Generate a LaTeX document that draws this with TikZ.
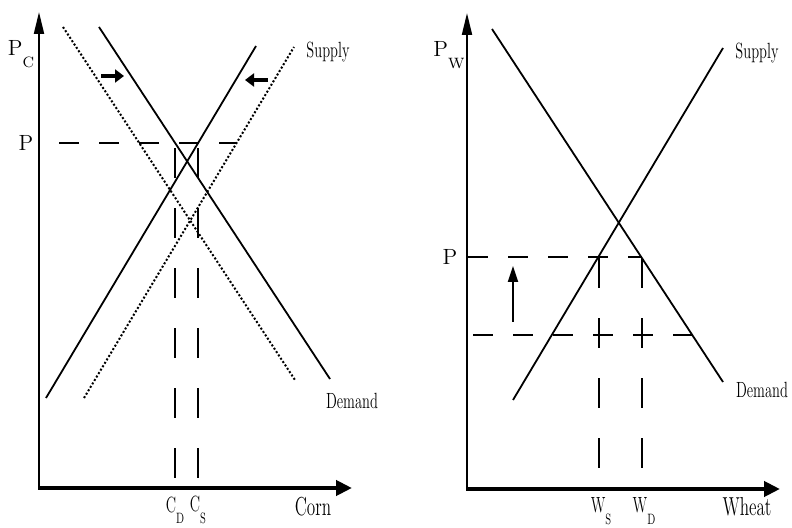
\documentclass[tikz,border=0pt]{standalone}
\usepackage{graphicx}
\usetikzlibrary{arrows.meta,calc}
\newcommand{\slim}[1]{\scalebox{.66}[1]{#1}}
\newcommand{\sub}[1]{\raisebox{-1.2ex}{\fontsize{7.5}{8}\selectfont #1}}

\begin{document}
\begin{tikzpicture}[x=.5pt,y=-.5pt,line join=round,
 curve/.style={line width=.9pt},
 shifted/.style={line width=1pt,dash pattern=on 1pt off 1pt},
 hguide/.style={line width=1pt,dash pattern=on 10pt off 10pt},
 vguide/.style={line width=1pt,dash pattern=on 15pt off 15pt},
 yaxis/.style={line width=1pt,-{Triangle[length=11pt,width=5pt]}},
 xaxis/.style={line width=2pt,-{Triangle[length=8pt,width=7.5pt]}},
 push/.style={line width=2pt,-{Triangle[length=4.5pt,width=6.5pt]}},
 rise/.style={line width=1pt,-{Triangle[length=8pt,width=5pt]}},
 lbl/.style={font=\fontsize{11}{13}\selectfont,inner sep=0pt},
 axlbl/.style={font=\fontsize{13}{15}\selectfont,inner sep=0pt}]
\useasboundingbox (0,0) rectangle (792,528);
% Kukurydza: lewy wykres, linie kropkowane = krzywe przed przesunieciem
\coordinate (co) at (39,488);
\coordinate (cy) at (39,12);
\coordinate (cx) at (352,488);
\draw[yaxis] (co) -- (cy);
\draw[xaxis] ($(co)+(-1,0)$) -- (cx);
\coordinate (cd1) at (99,27);   \coordinate (cd2) at (330,379);
\coordinate (cs1) at (46,398);  \coordinate (cs2) at (256,46);
\coordinate (cdo1) at (63,27);  \coordinate (cdo2) at (295,380);
\coordinate (cso1) at (84,398); \coordinate (cso2) at (294,47);
\draw[curve] (cd1) -- (cd2);
\draw[curve] (cs1) -- (cs2);
\draw[shifted] (cdo1) -- (cdo2);
\draw[shifted] (cso1) -- (cso2);
\coordinate (cpl) at (59,143);  \coordinate (cpr) at (237,143);
\draw[hguide] (cpl) -- (cpr);
\foreach \cx/\nm in {175/cqd,198/cqs}{
 \coordinate (\nm b) at (\cx,478);
 \coordinate (\nm t) at (\cx,143);
 \draw[vguide] (\nm b) -- (\nm t);}
\coordinate (ca1) at (101,76);  \coordinate (ca2) at (124,76);
\coordinate (cb1) at (268,80);  \coordinate (cb2) at (245,80);
\draw[push] (ca1) -- (ca2);
\draw[push] (cb1) -- (cb2);
\node[lbl] (pc) at (21,54) {P\sub{C}};
\node[lbl] (cp) at (26,143) {P};
\node[lbl] (csup) at (328,52) {\slim{Supply}};
\node[lbl] (cdem) at (352,401) {\slim{Demand}};
\node[axlbl] (corn) at (313,507) {\slim{Corn}};
\node[lbl] (cdl) at (175,510) {\slim{C\sub{D}}};
\node[lbl] (csl) at (198,510) {\slim{C\sub{S}}};
% Pszenica: prawy wykres
\coordinate (wo) at (467,489);
\coordinate (wy) at (467,13);
\coordinate (wx) at (780,489);
\draw[yaxis] (wo) -- (wy);
\draw[xaxis] ($(wo)+(-1,0)$) -- (wx);
\coordinate (wd1) at (492,29);  \coordinate (wd2) at (723,382);
\coordinate (ws1) at (513,400); \coordinate (ws2) at (723,48);
\draw[curve] (wd1) -- (wd2);
\draw[curve] (ws1) -- (ws2);
\coordinate (wpl) at (468,257); \coordinate (wpr) at (642,257);
\coordinate (wql) at (473,335); \coordinate (wqr) at (692,335);
\draw[hguide] (wpl) -- (wpr);
\draw[hguide] (wql) -- (wqr);
\foreach \cx/\nm in {599/wqs,642/wqd}{
 \coordinate (\nm b) at (\cx,468);
 \coordinate (\nm t) at (\cx,257);
 \draw[vguide] (\nm b) -- (\nm t);}
\coordinate (wa1) at (513,322); \coordinate (wa2) at (513,266);
\draw[rise] (wa1) -- (wa2);
\node[lbl] (pw) at (449,55) {P\sub{W}};
\node[lbl] (wp) at (450,257) {P};
\node[lbl] (wsup) at (757,53) {\slim{Supply}};
\node[lbl] (wdem) at (762,390) {\slim{Demand}};
\node[axlbl] (wheat) at (747,507) {\slim{Wheat}};
\node[lbl] (wsl) at (601,511) {\slim{W\sub{S}}};
\node[lbl] (wdl) at (644,511) {\slim{W\sub{D}}};
\end{tikzpicture}
\end{document}
